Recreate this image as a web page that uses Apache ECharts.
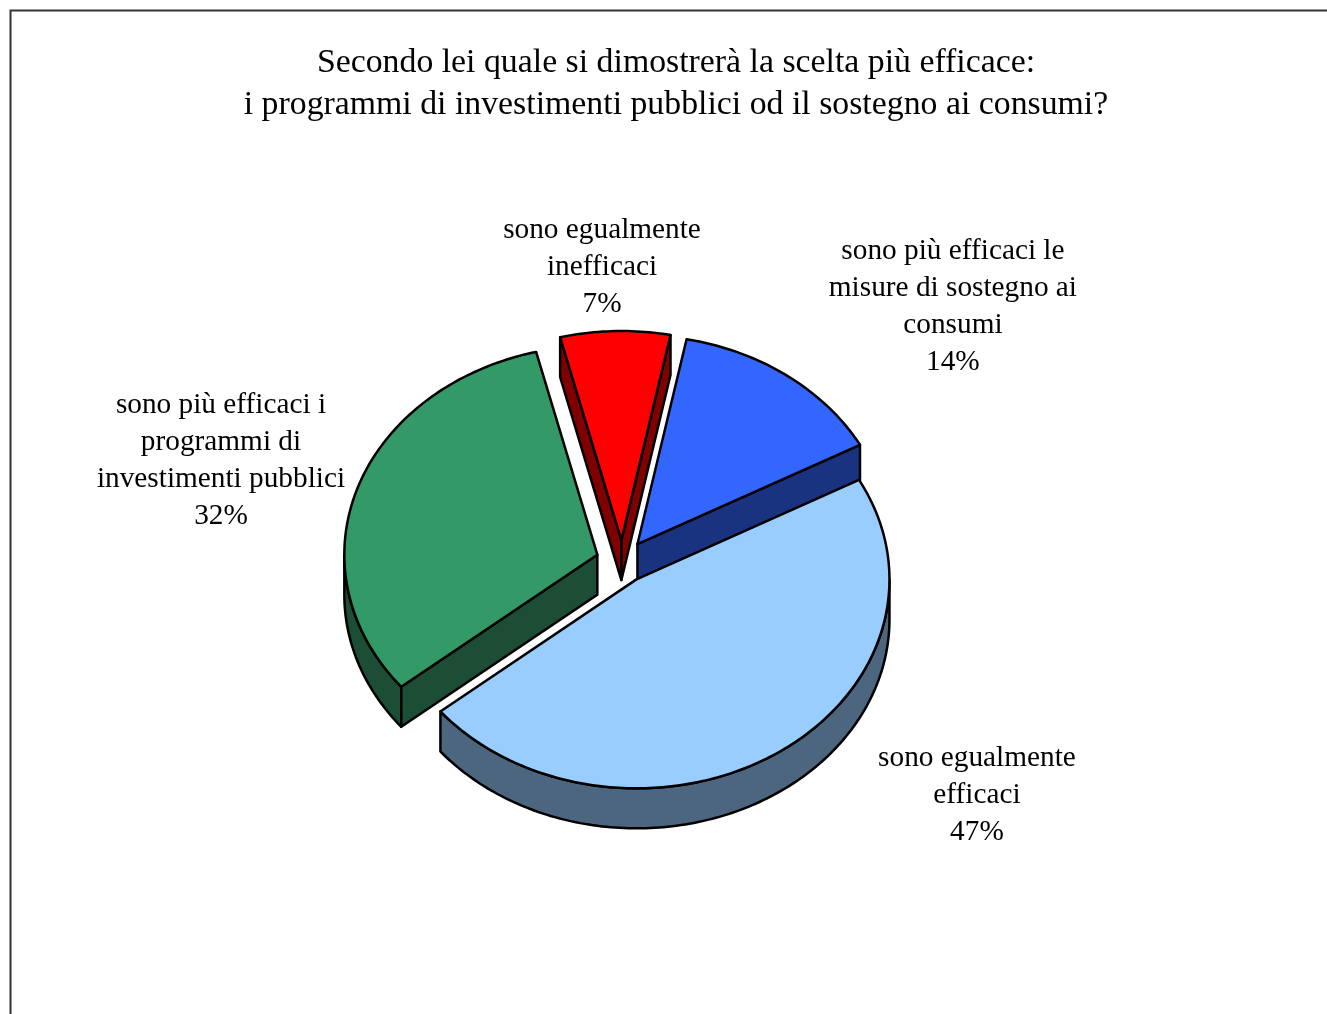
<!DOCTYPE html>
<html>
<head>
<meta charset="utf-8">
<script src="https://cdn.jsdelivr.net/npm/echarts@6/dist/echarts.min.js"></script>
<style>
  html, body { margin: 0; padding: 0; background: #fff; }
  #chart { width: 1327px; height: 1014px; }
</style>
</head>
<body>
<div id="chart"></div>
<script>
// Survey answers, in clockwise order starting near 12 o'clock
const categories = [
  'sono più efficaci le\nmisure di sostegno ai\nconsumi',
  'sono egualmente\nefficaci',
  'sono più efficaci i\nprogrammi di\ninvestimenti pubblici',
  'sono egualmente\ninefficaci'
];
const shares = [14, 47, 32, 7];

const titleLines = [
  'Secondo lei quale si dimostrerà la scelta più efficace:',
  'i programmi di investimenti pubblici od il sostegno ai consumi?'
];

// Slice colours: top face and the darker extruded sides
const topColors  = ['#3366FF', '#99CCFF', '#339966', '#FF0000'];
const sideColors = ['#1A3380', '#4D6680', '#1C4D35', '#800000'];

// Label block centres, in units of the pie radii, measured from the pie centre
const labelPlacement = [[1.308, -1.220], [1.403, 1.120], [-1.585, -0.482], [-0.079, -1.409]];

// 3D pie layout
const PIE = { cx: 622, cy: 561.5, rx: 253, ry: 209, depth: 40, explode: 26, startDeg: 11.2 };
const FONT_FAMILY = '"Liberation Serif", "Times New Roman", serif';

const total = shares.reduce((a, b) => a + b, 0);
const startAngles = [];
shares.reduce((acc, v) => { startAngles.push(acc); return acc + v; }, 0);

const DEG = Math.PI / 180;
function rim(cx, cy, deg, k) {
  const t = deg * DEG;
  return [cx + PIE.rx * k * Math.sin(t), cy - PIE.ry * k * Math.cos(t)];
}
function arc(cx, cy, d1, d2, dy) {
  const pts = [];
  const n = Math.max(2, Math.ceil(Math.abs(d2 - d1) / 1));
  for (let i = 0; i <= n; i++) {
    const p = rim(cx, cy, d1 + (d2 - d1) * i / n, 1);
    pts.push([p[0], p[1] + (dy || 0)]);
  }
  return pts;
}
const edgeStyle = { stroke: '#000', lineWidth: 2.5, lineJoin: 'round' };

function renderSlice(params, api) {
  const i = params.dataIndex;
  const v = api.value(0);
  const a1 = PIE.startDeg + startAngles[i] / total * 360;
  const a2 = a1 + v / total * 360;
  const mid = (a1 + a2) / 2;
  const s = PIE.ry / PIE.rx;
  const cx = PIE.cx + PIE.explode * Math.sin(mid * DEG);
  const cy = PIE.cy - PIE.explode * s * Math.cos(mid * DEG);
  const D = PIE.depth;
  const children = [];

  // outer wall, only the part that faces the viewer
  const b1 = Math.max(a1, 90), b2 = Math.min(a2, 270);
  if (b2 > b1) {
    const top = arc(cx, cy, b1, b2, 0);
    const bottom = arc(cx, cy, b2, b1, D);
    children.push({ type: 'polygon', z2: 1, shape: { points: top.concat(bottom) },
      style: Object.assign({ fill: sideColors[i] }, edgeStyle) });
  }
  // radial cut faces that turn towards the viewer
  const faces = [];
  if (Math.sin(a1 * DEG) < 0) faces.push(a1);
  if (Math.sin(a2 * DEG) > 0) faces.push(a2);
  faces.forEach(a => {
    const p = rim(cx, cy, a, 1);
    children.push({ type: 'polygon', z2: 2,
      shape: { points: [[cx, cy], p, [p[0], p[1] + D], [cx, cy + D]] },
      style: Object.assign({ fill: sideColors[i] }, edgeStyle) });
  });
  // top face
  children.push({ type: 'polygon', z2: 5,
    shape: { points: [[cx, cy]].concat(arc(cx, cy, a1, a2, 0)) },
    style: Object.assign({ fill: topColors[i] }, edgeStyle) });
  // data label
  const lp = labelPlacement[i];
  children.push({ type: 'text', z2: 10,
    style: {
      text: categories[i] + '\n' + Math.round(v / total * 100) + '%',
      x: PIE.cx + lp[0] * PIE.rx, y: PIE.cy + lp[1] * PIE.ry,
      align: 'center', verticalAlign: 'middle',
      fontFamily: FONT_FAMILY, fontSize: 29.3, lineHeight: 37, fill: '#000'
    } });
  return { type: 'group', children: children };
}

const chart = echarts.init(document.getElementById('chart'), null, { renderer: 'canvas' });
chart.setOption({
  backgroundColor: '#fff',
  animation: false,
  graphic: [
    { type: 'polyline', shape: { points: [[10.5, 1014], [10.5, 10.5], [1327, 10.5]] },
      style: { stroke: '#333', lineWidth: 2, fill: null } },
    { type: 'text', x: 676, y: 84,
      style: { text: titleLines.join('\n'), align: 'center', verticalAlign: 'middle',
        fontFamily: FONT_FAMILY, fontSize: 33.8, lineHeight: 42, fill: '#000' } }
  ],
  series: [{
    type: 'custom',
    coordinateSystem: 'none',
    renderItem: renderSlice,
    data: shares.map(v => [v])
  }]
});
</script>
</body>
</html>
